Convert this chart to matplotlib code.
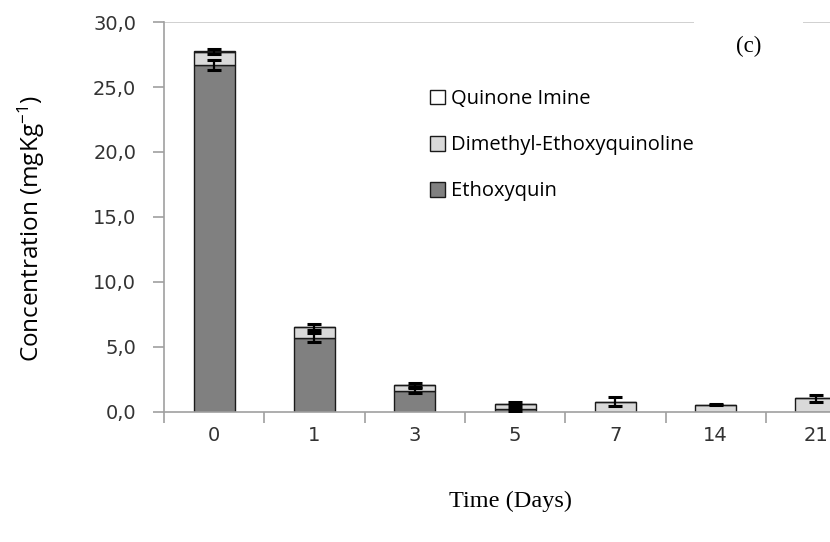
import numpy as np
import matplotlib.pyplot as plt

days = ['0', '1', '3', '5', '7', '14', '21']
ethoxyquin = [26.7, 5.7, 1.65, 0.2, 0.0, 0.0, 0.0]
dimethyl = [1.0, 0.8, 0.4, 0.45, 0.8, 0.55, 1.05]
quinone = [0.05, 0.05, 0.0, 0.0, 0.0, 0.0, 0.0]
err_ethoxyquin = [0.4, 0.35, 0.2, 0.1, 0.0, 0.0, 0.0]
err_top = [0.2, 0.25, 0.15, 0.15, 0.35, 0.05, 0.25]

fig = plt.figure(figsize=(8.3, 5.42), dpi=100)
ax = fig.add_axes([0.1976, 0.2399, 0.8460, 0.7195])

x = np.arange(len(days))
w = 0.41
eth = np.array(ethoxyquin)
dim = np.array(dimethyl)
qui = np.array(quinone)

ax.bar(x, eth, w, color='#808080', edgecolor='#1a1a1a', linewidth=1.0, zorder=2)
ax.bar(x, dim, w, bottom=eth, color='#d9d9d9', edgecolor='#1a1a1a', linewidth=1.0, zorder=2)
ax.bar(x, qui, w, bottom=eth + dim, color='white', edgecolor='#1a1a1a', linewidth=1.0, zorder=2)

ekw = dict(fmt='none', ecolor='black', elinewidth=1.6, capsize=5, capthick=2.2, zorder=3)
m = eth > 0
ax.errorbar(x[m], eth[m], yerr=np.array(err_ethoxyquin)[m], **ekw)
ax.errorbar(x, eth + dim + qui, yerr=err_top, **ekw)

ax.set_xlim(-0.5, 6.5)
ax.set_ylim(0, 30)
ax.axhline(30, color='#c8c8c8', linewidth=1.2, zorder=1)

for s in ['top', 'right']:
    ax.spines[s].set_visible(False)
for s in ['left', 'bottom']:
    ax.spines[s].set_color('#a0a0a0')
    ax.spines[s].set_linewidth(1.2)

ax.set_yticks(np.arange(0, 31, 5))
ax.set_yticklabels([f'{v:.1f}'.replace('.', ',') for v in np.arange(0, 31, 5)],
                   fontsize=14, family='DejaVu Sans', color='#333333')
ax.tick_params(axis='y', direction='out', length=8, color='#a0a0a0', width=1.2, pad=12)

# category boundaries get the tick marks, centres get the labels
ax.set_xticks(np.arange(-0.5, 7, 1))
ax.set_xticklabels([])
ax.set_xticks(x, minor=True)
ax.set_xticklabels(days, minor=True, fontsize=14, family='DejaVu Sans', color='#333333')
ax.tick_params(axis='x', which='major', direction='out', length=8, color='#a0a0a0', width=1.2)
ax.tick_params(axis='x', which='minor', length=0, pad=10)

plt.rcParams['mathtext.fontset'] = 'custom'
plt.rcParams['mathtext.rm'] = 'Open Sans'
ax.set_ylabel('Concentration (mgKg$\\mathregular{^{-1}}$)', fontsize=17.5, family='Open Sans')
ax.yaxis.set_label_coords(-0.166, 0.47)
fig.text(0.615, 0.075, 'Time (Days)', fontsize=17.5, family='Liberation Serif',
         ha='center', va='center')
fig.text(0.902, 0.915, '(c)', fontsize=16.5, family='Liberation Serif', ha='center', va='center',
         bbox=dict(facecolor='white', edgecolor='none', pad=30))

handles = [plt.Rectangle((0, 0), 1, 1, facecolor=c, edgecolor='#1a1a1a', linewidth=1.0)
           for c in ['white', '#d9d9d9', '#808080']]
fig.legend(handles, ['Quinone Imine', 'Dimethyl-Ethoxyquinoline', 'Ethoxyquin'],
           loc='upper left', bbox_to_anchor=(0.496, 0.869), frameon=False,
           prop={'family': 'Open Sans', 'size': 14.5}, labelspacing=1.3,
           handlelength=0.75, handleheight=0.75, handletextpad=0.3)

fig.savefig('out.png', dpi=100)
